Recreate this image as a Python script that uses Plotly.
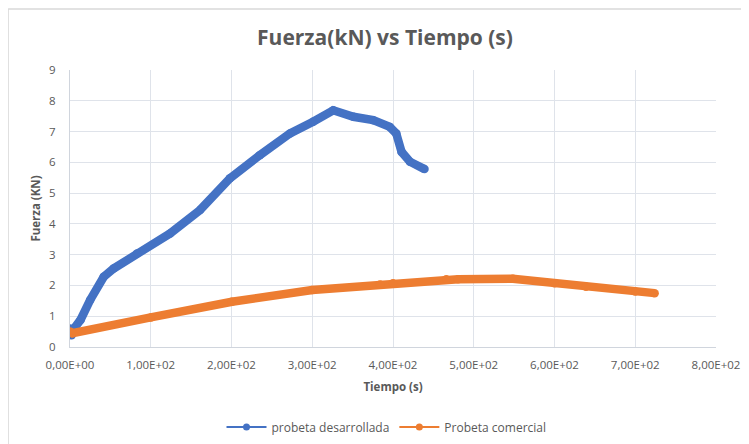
import plotly.graph_objects as go

# Data
blue_name = "probeta desarrollada"
blue_t = [0, 2, 5, 13, 25, 41.8, 54, 83, 124, 161, 198, 235, 272.5, 301, 326, 351, 375.5, 396, 404, 410.6, 421, 439]
blue_f = [0.6, 0.38, 0.6, 0.88, 1.53, 2.28, 2.55, 3.04, 3.69, 4.45, 5.48, 6.23, 6.94, 7.32, 7.69, 7.48, 7.37, 7.15, 6.94, 6.34, 6.02, 5.78]

orange_name = "Probeta comercial"
orange_t = [0, 3, 100, 200.5, 300, 384, 400, 466, 480.6, 548.5, 600, 639, 700, 724]
orange_f = [0.5, 0.45, 0.96, 1.47, 1.85, 2.03, 2.07, 2.2, 2.2, 2.22, 2.07, 1.96, 1.8, 1.75]

x_tickvals = [0, 100, 200, 300, 400, 500, 600, 700, 800]
x_ticktext = ["0,00E+00", "1,00E+02", "2,00E+02", "3,00E+02", "4,00E+02",
              "5,00E+02", "6,00E+02", "7,00E+02", "8,00E+02"]
y_tickvals = [0, 1, 2, 3, 4, 5, 6, 7, 8, 9]

BLUE = "#4472C4"
ORANGE = "#ED7D31"
TXT = "#595959"
GRID = "#DFE3EA"
FONT = "Open Sans"

# The page body has an 8px margin, so the figure is offset by 8px.
OFF = 8
W, H = 749 - OFF, 444 - OFF
L, T = 70 - OFF, 70 - OFF          # plot area left / top (page px 70, 70)
R_EDGE, B_EDGE = 716.5 - OFF, 347 - OFF
PW, PH = R_EDGE - L, B_EDGE - T

fig = go.Figure()
fig.add_trace(go.Scatter(x=blue_t, y=blue_f, mode="lines+markers", showlegend=False,
                         line=dict(color=BLUE, width=8.5), marker=dict(color=BLUE, size=8.5)))
fig.add_trace(go.Scatter(x=orange_t, y=orange_f, mode="lines+markers", showlegend=False,
                         line=dict(color=ORANGE, width=8.5), marker=dict(color=ORANGE, size=8.5)))
# legend entries (thin line + marker like Excel)
fig.add_trace(go.Scatter(x=[None], y=[None], mode="lines+markers", name=blue_name,
                         line=dict(color=BLUE, width=2), marker=dict(color=BLUE, size=7)))
fig.add_trace(go.Scatter(x=[None], y=[None], mode="lines+markers", name=orange_name,
                         line=dict(color=ORANGE, width=2), marker=dict(color=ORANGE, size=7)))

def px_x(X):
    return (X - OFF - L) / PW

def px_y(Y):
    return (B_EDGE - (Y - OFF)) / PH

fig.update_layout(
    width=W, height=H,
    margin=dict(l=L, r=W - R_EDGE, t=T, b=H - B_EDGE, pad=0),
    paper_bgcolor="white", plot_bgcolor="white",
    font=dict(family=FONT, color=TXT, size=11),
    title=dict(text="<b>Fuerza(kN) vs Tiempo (s)</b>", x=(385 - OFF) / W, xanchor="center",
               y=1 - (38 - OFF) / H, yanchor="middle", font=dict(size=21, color=TXT, family=FONT),
               automargin=False),
    xaxis=dict(range=[0, 800], tickvals=x_tickvals, ticktext=x_ticktext, automargin=False,
               showgrid=True, gridcolor=GRID, gridwidth=1,
               showline=True, linecolor="#D0D5DD", linewidth=1, zeroline=False,
               ticks="", ticklabelstandoff=7, tickfont=dict(size=11.5, color=TXT),
               title=dict(text="<b>Tiempo (s)</b>", font=dict(size=11.5, color=TXT), standoff=12)),
    yaxis=dict(range=[0, 9], tickvals=y_tickvals, automargin=False,
               showgrid=True, gridcolor=GRID, gridwidth=1,
               showline=True, linecolor="#D0D5DD", linewidth=1, zeroline=False,
               ticks="", ticklabelstandoff=11, tickfont=dict(size=11.5, color=TXT),
               title=dict(text="<b>Fuerza (KN)</b>", font=dict(size=11.5, color=TXT), standoff=6)),
    legend=dict(orientation="h", xref="container", x=(386.5 - OFF) / W, xanchor="center",
                yref="container", y=1 - (427 - OFF) / H, yanchor="middle",
                font=dict(size=12, color=TXT), itemwidth=40, bgcolor="rgba(0,0,0,0)"),
    shapes=[
        dict(type="line", xref="paper", yref="paper", x0=px_x(8), x1=px_x(749),
             y0=px_y(9), y1=px_y(9), line=dict(color="#D9D9D9", width=1.5)),
        dict(type="line", xref="paper", yref="paper", x0=px_x(8), x1=px_x(8),
             y0=px_y(9), y1=px_y(444), line=dict(color="#D9D9D9", width=1.5)),
    ],
)

fig.write_html("out.html")
